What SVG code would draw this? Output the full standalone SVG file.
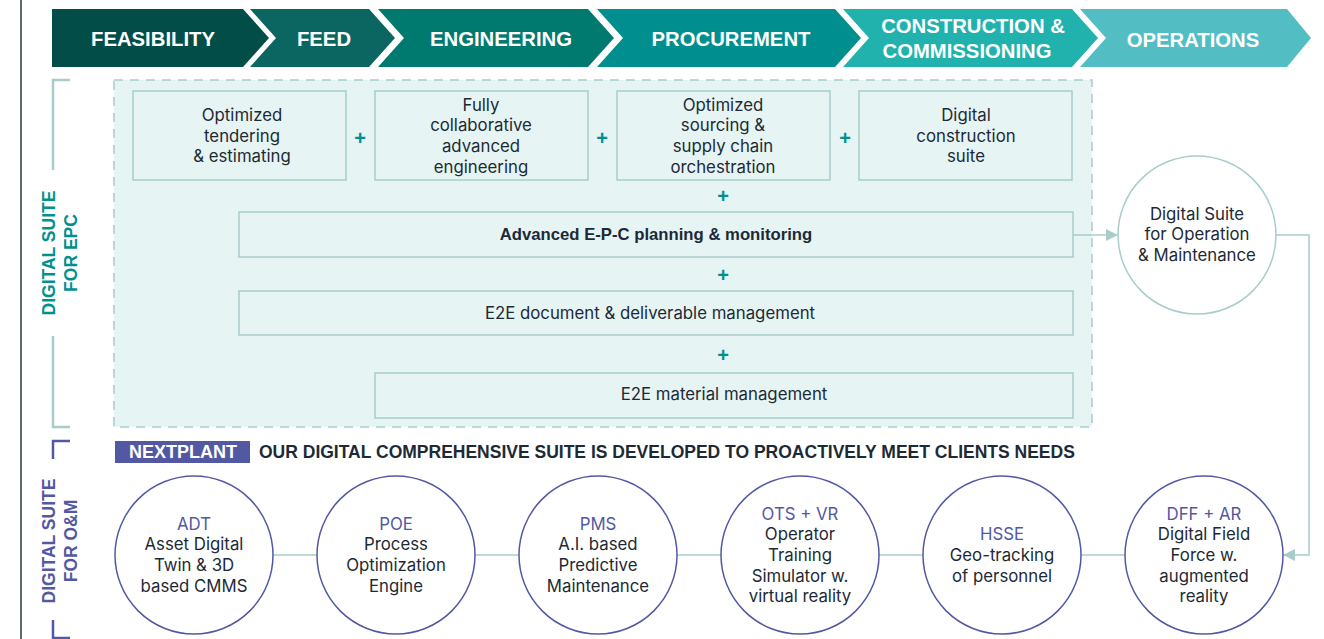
<svg xmlns="http://www.w3.org/2000/svg" width="1324" height="639" viewBox="0 0 1324 639">
<defs>
<style>
.ct{font-family:"Liberation Sans",Arial,sans-serif;font-weight:bold;font-size:20.3px;fill:#ffffff;text-anchor:middle}
.box{fill:#e6f4f4;stroke:#a8cccc;stroke-width:1.5}
.bt{font-family:Inter,"Liberation Sans",Arial,sans-serif;font-size:16.8px;fill:#1d2a35;text-anchor:middle}
.btb{font-family:"Liberation Sans",Arial,sans-serif;font-size:16.7px;font-weight:bold;fill:#1d2a35;text-anchor:middle}
.plus{font-family:"Liberation Sans",Arial,sans-serif;font-size:20px;font-weight:bold;fill:#00918e;text-anchor:middle}
.circ{fill:#ffffff;stroke:#5358a3;stroke-width:1.5}
.lab{font-family:Inter,"Liberation Sans",Arial,sans-serif;font-size:16.8px;fill:#5358a3;text-anchor:middle}
.conn{fill:none;stroke:#a8cccc;stroke-width:1.5}
.side{font-family:"Liberation Sans",Arial,sans-serif;font-size:17.5px;font-weight:bold;text-anchor:middle}
</style>
<marker id="arr" viewBox="0 0 12 12" refX="12" refY="6" markerWidth="12" markerHeight="12" markerUnits="userSpaceOnUse" orient="auto">
<path d="M0,0 L12,6 L0,12 Z" fill="#a8cccc"/>
</marker>
</defs>
<rect width="1324" height="639" fill="#ffffff"/>
<line x1="21" y1="0" x2="21" y2="639" stroke="#5f6b73" stroke-width="2"/>

<g id="phases">
<polygon points="52,9 243,9 269,38 243,67 52,67" fill="#024d48"/>
<text class="ct" x="153" y="46">FEASIBILITY</text>
<polygon points="250,9 369,9 395,38 369,67 250,67 276,38" fill="#0b6662"/>
<text class="ct" x="324" y="46">FEED</text>
<polygon points="378,9 588,9 614,38 588,67 378,67 404,38" fill="#00796f"/>
<text class="ct" x="501" y="46">ENGINEERING</text>
<polygon points="597,9 835,9 861,38 835,67 597,67 623,38" fill="#008f8e"/>
<text class="ct" x="731" y="46">PROCUREMENT</text>
<polygon points="843,9 1072,9 1098,38 1072,67 843,67 869,38" fill="#21b2ae"/>
<text class="ct" x="973" y="33">CONSTRUCTION &amp;</text>
<text class="ct" x="967" y="58">COMMISSIONING</text>
<polygon points="1080,9 1287,9 1311,38 1287,67 1080,67 1106,38" fill="#52bdc3"/>
<text class="ct" x="1193" y="47">OPERATIONS</text>
</g>

<g id="side-labels">
<path d="M70,80 H53 V170 M53,336 V427 H70" fill="none" stroke="#a8cccc" stroke-width="2.5"/>
<text class="side" fill="#00918e" transform="translate(55,253) rotate(-90)">DIGITAL SUITE</text>
<text class="side" fill="#00918e" transform="translate(77,253) rotate(-90)">FOR EPC</text>
<path d="M70,441 H53 V459 M53,620 V638 H70" fill="none" stroke="#5358a3" stroke-width="2.5"/>
<text class="side" fill="#5358a3" transform="translate(55,541) rotate(-90)">DIGITAL SUITE</text>
<text class="side" fill="#5358a3" transform="translate(77,541) rotate(-90)">FOR O&amp;M</text>
</g>

<g id="epc-suite">
<rect x="114" y="80" width="978" height="347" fill="#e6f4f4" stroke="#a8cccc" stroke-width="1.5" stroke-dasharray="9,7"/>
</g>

<g id="connectors">
<line class="conn" x1="1073" y1="235" x2="1118" y2="235" marker-end="url(#arr)"/>
<polyline class="conn" points="1276,235 1309,235 1309,555 1283,555" marker-end="url(#arr)"/>
<line class="conn" x1="273" y1="555" x2="1126" y2="555"/>
</g>

<g id="box-tendering">
<rect class="box" x="133" y="91" width="213" height="89"/>
<text class="bt" x="242" y="121">Optimized</text>
<text class="bt" x="242" y="142">tendering</text>
<text class="bt" x="242" y="162">&amp; estimating</text>
</g>
<g id="box-engineering">
<rect class="box" x="375" y="91" width="213" height="89"/>
<text class="bt" x="481" y="111">Fully</text>
<text class="bt" x="481" y="131">collaborative</text>
<text class="bt" x="481" y="152">advanced</text>
<text class="bt" x="481" y="173">engineering</text>
</g>
<g id="box-sourcing">
<rect class="box" x="617" y="91" width="213" height="89"/>
<text class="bt" x="723" y="111">Optimized</text>
<text class="bt" x="723" y="131">sourcing &amp;</text>
<text class="bt" x="723" y="152">supply chain</text>
<text class="bt" x="723" y="173">orchestration</text>
</g>
<g id="box-construction">
<rect class="box" x="859" y="91" width="213" height="89"/>
<text class="bt" x="966" y="121">Digital</text>
<text class="bt" x="966" y="142">construction</text>
<text class="bt" x="966" y="162">suite</text>
</g>
<g id="plus-signs">
<text class="plus" x="360" y="145">+</text>
<text class="plus" x="602" y="145">+</text>
<text class="plus" x="845" y="145">+</text>
<text class="plus" x="723" y="203">+</text>
<text class="plus" x="723" y="282">+</text>
<text class="plus" x="723" y="362">+</text>
</g>
<g id="box-planning">
<rect class="box" x="239" y="212" width="834" height="45"/>
<text class="btb" x="656" y="240">Advanced E-P-C planning &amp; monitoring</text>
</g>
<g id="box-document">
<rect class="box" x="239" y="291" width="834" height="44"/>
<text class="bt" x="650" y="319">E2E document &amp; deliverable management</text>
</g>
<g id="box-material">
<rect class="box" x="375" y="373" width="698" height="45"/>
<text class="bt" x="724" y="400">E2E material management</text>
</g>

<g id="om-circle">
<circle cx="1197" cy="235" r="79" fill="#ffffff" stroke="#a8cccc" stroke-width="1.5"/>
<text class="bt" x="1197" y="220">Digital Suite</text>
<text class="bt" x="1197" y="240">for Operation</text>
<text class="bt" x="1197" y="261">&amp; Maintenance</text>
</g>

<g id="headline">
<rect x="115" y="441" width="135" height="22" fill="#5358a3"/>
<text x="183" y="458" font-family="Liberation Sans, Arial, sans-serif" font-weight="bold" font-size="18" fill="#ffffff" text-anchor="middle">NEXTPLANT</text>
<text x="259" y="458" font-family="Liberation Sans, Arial, sans-serif" font-weight="bold" font-size="17.5" fill="#1d2a35">OUR DIGITAL COMPREHENSIVE SUITE IS DEVELOPED TO PROACTIVELY MEET CLIENTS NEEDS</text>
</g>

<g id="adt">
<circle class="circ" cx="194" cy="555" r="79"/>
<text class="lab" x="194" y="530">ADT</text>
<text class="bt" x="194" y="550">Asset Digital</text>
<text class="bt" x="194" y="571">Twin &amp; 3D</text>
<text class="bt" x="194" y="592">based CMMS</text>
</g>
<g id="poe">
<circle class="circ" cx="396" cy="555" r="79"/>
<text class="lab" x="396" y="530">POE</text>
<text class="bt" x="396" y="550">Process</text>
<text class="bt" x="396" y="571">Optimization</text>
<text class="bt" x="396" y="592">Engine</text>
</g>
<g id="pms">
<circle class="circ" cx="598" cy="555" r="79"/>
<text class="lab" x="598" y="530">PMS</text>
<text class="bt" x="598" y="550">A.I. based</text>
<text class="bt" x="598" y="571">Predictive</text>
<text class="bt" x="598" y="592">Maintenance</text>
</g>
<g id="ots">
<circle class="circ" cx="800" cy="555" r="79"/>
<text class="lab" x="800" y="520">OTS + VR</text>
<text class="bt" x="800" y="540">Operator</text>
<text class="bt" x="800" y="561">Training</text>
<text class="bt" x="800" y="582">Simulator w.</text>
<text class="bt" x="800" y="602">virtual reality</text>
</g>
<g id="hsse">
<circle class="circ" cx="1002" cy="555" r="79"/>
<text class="lab" x="1002" y="540">HSSE</text>
<text class="bt" x="1002" y="561">Geo-tracking</text>
<text class="bt" x="1002" y="582">of personnel</text>
</g>
<g id="dff">
<circle class="circ" cx="1204" cy="555" r="79"/>
<text class="lab" x="1204" y="520">DFF + AR</text>
<text class="bt" x="1204" y="540">Digital Field</text>
<text class="bt" x="1204" y="561">Force w.</text>
<text class="bt" x="1204" y="582">augmented</text>
<text class="bt" x="1204" y="602">reality</text>
</g>
</svg>
